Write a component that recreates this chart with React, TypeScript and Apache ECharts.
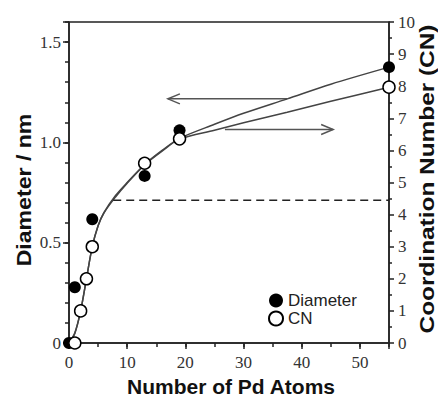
import React, { useEffect, useRef } from "react";
import * as echarts from "echarts";

// Measured points
const diamX = [0, 1, 4, 13, 19, 55];
const diamY = [0, 0.278, 0.617, 0.833, 1.06, 1.375];
const cnX = [1, 2, 3, 4, 13, 19, 55];
const cnY = [0, 1.0, 2.0, 3.0, 5.6, 6.36, 7.97];

// Fitted curves
const diamFitX = [0, 1, 2, 3, 4, 5, 6, 8, 10, 13, 16, 19, 25, 30, 37.5, 45, 55];
const diamFitY = [0, 0.05, 0.16, 0.32, 0.48, 0.585, 0.65, 0.735, 0.8, 0.89, 0.96, 1.02, 1.09, 1.145, 1.217, 1.29, 1.375];
const cnFitX = [0, 1, 2, 3, 4, 5, 6, 8, 10, 13, 16, 19, 25, 30, 37.5, 45, 55];
const cnFitY = [0, 0.3, 1.0, 2.0, 3.0, 3.65, 4.05, 4.55, 4.98, 5.55, 5.98, 6.35, 6.63, 6.86, 7.19, 7.53, 7.97];

// Dashed reference line (left axis units)
const dashX = [7.6, 55];
const dashY = 0.712;

// Arrows: [tail x, head x, y]
const leftArrow = [37.5, 17.0, 1.217]; // left axis units
const rightArrow = [26.8, 45.4, 6.65]; // right axis units

const xTicks = [0, 10, 20, 30, 40, 50];

const serif = "'Liberation Serif', 'DejaVu Serif', serif";
const sans = "'Liberation Sans', Arial, sans-serif";

function arrowItem(params: any, api: any) {
  const tail = api.coord([api.value(0), api.value(2)]);
  const head = api.coord([api.value(1), api.value(2)]);
  const s = head[0] > tail[0] ? 1 : -1;
  const st = { stroke: "#555", lineWidth: 1.5, fill: "none" };
  return {
    type: "group",
    children: [
      { type: "line", shape: { x1: tail[0], y1: tail[1], x2: head[0], y2: head[1] }, style: st },
      {
        type: "polyline",
        shape: {
          points: [
            [head[0] - s * 12, head[1] - 5],
            [head[0], head[1]],
            [head[0] - s * 12, head[1] + 5],
          ],
        },
        style: st,
      },
    ],
  };
}

export default function App() {
  const ref = useRef<HTMLDivElement>(null);
  useEffect(() => {
    const chart = echarts.init(ref.current!, null, { renderer: "svg" });
    const axisLine = { show: true, lineStyle: { color: "#222", width: 1.5 } };
    chart.setOption({
      animation: false,
      backgroundColor: "#fff",
      grid: {
        left: 69,
        right: 49,
        top: 22,
        bottom: 54,
        show: true,
        borderColor: "#222",
        borderWidth: 1.5,
        backgroundColor: "transparent",
      },
      legend: {
        data: ["Diameter", "CN"],
        orient: "vertical",
        left: 268,
        top: 292,
        padding: 0,
        itemWidth: 14,
        itemHeight: 14,
        itemGap: 1,
        icon: "circle",
        textStyle: { fontFamily: sans, fontSize: 17, color: "#222" },
      },
      xAxis: [
        {
          type: "value",
          min: 0,
          max: 55,
          interval: 10,
          axisLine,
          axisTick: { show: true, length: 6, lineStyle: { color: "#222", width: 1.5 } },
          axisLabel: {
            margin: 11,
            fontFamily: serif,
            fontSize: 17,
            color: "#333",
            formatter: (v: number) => (xTicks.includes(v) ? String(v) : ""),
          },
          splitLine: { show: false },
        },
        {
          type: "value",
          position: "bottom",
          min: 0,
          max: 55,
          interval: 5,
          axisLine: { show: false },
          axisTick: { show: true, length: 4, lineStyle: { color: "#222", width: 1.5 } },
          axisLabel: { show: false },
          splitLine: { show: false },
        },
      ],
      yAxis: [
        {
          type: "value",
          position: "left",
          min: 0,
          max: 1.6,
          interval: 0.5,
          axisLine,
          axisTick: { show: true, length: 6, lineStyle: { color: "#222", width: 1.5 } },
          axisLabel: {
            margin: 8,
            fontFamily: serif,
            fontSize: 17,
            color: "#333",
            formatter: (v: number) =>
              Math.abs(v) < 1e-9 ? "0" : Math.abs(v - 1.6) < 1e-6 ? "" : v.toFixed(1),
          },
          splitLine: { show: false },
        },
        {
          type: "value",
          position: "left",
          min: 0,
          max: 1.6,
          interval: 0.1,
          axisLine: { show: false },
          axisTick: { show: true, length: 4, lineStyle: { color: "#222", width: 1.5 } },
          axisLabel: { show: false },
          splitLine: { show: false },
        },
        {
          type: "value",
          position: "right",
          min: 0,
          max: 10,
          interval: 1,
          axisLine,
          axisTick: { show: true, length: 5, lineStyle: { color: "#222", width: 1.5 } },
          minorTick: { show: true, splitNumber: 2, length: 3, lineStyle: { color: "#222", width: 1.5 } },
          axisLabel: { margin: 9, fontFamily: serif, fontSize: 17, color: "#333" },
          splitLine: { show: false },
        },
      ],
      graphic: [
        {
          type: "text",
          x: 24,
          y: 190,
          rotation: Math.PI / 2,
          scaleX: 1.1,
          style: {
            text: "Diameter / nm",
            font: `bold 21px ${sans}`,
            fill: "#111",
            textAlign: "center",
            textVerticalAlign: "middle",
          },
        },
        {
          type: "text",
          x: 427,
          y: 179,
          rotation: Math.PI / 2,
          scaleX: 1.22,
          style: {
            text: "Coordination Number (CN)",
            font: `bold 20px ${sans}`,
            fill: "#111",
            textAlign: "center",
            textVerticalAlign: "middle",
          },
        },
        {
          type: "text",
          x: 231,
          y: 386,
          style: {
            text: "Number of Pd Atoms",
            font: `bold 21px ${sans}`,
            fill: "#111",
            textAlign: "center",
            textVerticalAlign: "middle",
          },
        },
      ],
      series: [
        {
          name: "fitD",
          type: "line",
          xAxisIndex: 0,
          yAxisIndex: 0,
          data: diamFitX.map((x, i) => [x, diamFitY[i]]),
          smooth: 0.3,
          symbol: "none",
          lineStyle: { color: "#444", width: 1.5 },
          z: 2,
        },
        {
          name: "fitCN",
          type: "line",
          xAxisIndex: 0,
          yAxisIndex: 2,
          data: cnFitX.map((x, i) => [x, cnFitY[i]]),
          smooth: 0.3,
          symbol: "none",
          lineStyle: { color: "#444", width: 1.5 },
          z: 2,
        },
        {
          name: "dash",
          type: "line",
          xAxisIndex: 0,
          yAxisIndex: 0,
          data: dashX.map((x) => [x, dashY]),
          symbol: "none",
          lineStyle: { color: "#222", width: 1.5, type: [8, 5] },
          z: 2,
        },
        {
          name: "arrowL",
          type: "custom",
          xAxisIndex: 0,
          yAxisIndex: 0,
          data: [leftArrow],
          encode: { x: [0, 1], y: 2 },
          renderItem: arrowItem,
          z: 1,
        },
        {
          name: "arrowR",
          type: "custom",
          xAxisIndex: 0,
          yAxisIndex: 2,
          data: [rightArrow],
          encode: { x: [0, 1], y: 2 },
          renderItem: arrowItem,
          z: 1,
        },
        {
          name: "Diameter",
          type: "scatter",
          xAxisIndex: 0,
          yAxisIndex: 0,
          data: diamX.map((x, i) => [x, diamY[i]]),
          symbol: "circle",
          symbolSize: 12,
          itemStyle: { color: "#000", opacity: 1 },
          clip: false,
          z: 5,
        },
        {
          name: "CN",
          type: "scatter",
          xAxisIndex: 0,
          yAxisIndex: 2,
          data: cnX.map((x, i) => [x, cnY[i]]),
          symbol: "circle",
          symbolSize: 12,
          itemStyle: { color: "#fff", borderColor: "#000", borderWidth: 1.5, opacity: 1 },
          clip: false,
          z: 6,
        },
      ],
    });
    return () => chart.dispose();
  }, []);
  return (
    <div
      ref={ref}
      style={{ position: "fixed", left: 0, top: 0, width: 438, height: 397 }}
    />
  );
}
